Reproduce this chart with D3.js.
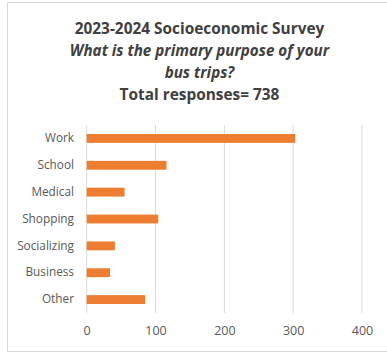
<!DOCTYPE html>
<html>
<head>
  <meta charset="utf-8">
  <script src="https://d3js.org/d3.v7.min.js"></script>
  <style>
    body { margin: 0; background: #fff; font-family: "Open Sans", sans-serif; }
  </style>
</head>
<body>
<script>
  // chart data
  var categories = ["Work", "School", "Medical", "Shopping", "Socializing", "Business", "Other"];
  var responses = [303, 116, 55, 104, 41, 34, 85];
  var xTicks = [0, 100, 200, 300, 400];
  var titleLines = [
    {text: "2023-2024 Socioeconomic Survey", italic: false},
    {text: "What is the primary purpose of your", italic: true},
    {text: "bus trips?", italic: true},
    {text: "Total responses= 738", italic: false}
  ];

  var width = 387, height = 353;
  var svg = d3.select("body").append("svg")
      .attr("width", width)
      .attr("height", height);

  // chart frame
  svg.append("rect")
      .attr("x", 7.5).attr("y", 2.5)
      .attr("width", 384).attr("height", 349)
      .attr("fill", "#fff")
      .attr("stroke", "#d9d9d9");

  // title
  svg.selectAll("text.title")
      .data(titleLines)
      .enter().append("text")
      .attr("class", "title")
      .attr("x", 199.5)
      .attr("y", function (d, i) { return 34 + i * 22; })
      .attr("text-anchor", "middle")
      .style("font-size", function (d) { return d.italic ? "15.2px" : "15.4px"; })
      .style("font-weight", 700)
      .style("font-style", function (d) { return d.italic ? "italic" : "normal"; })
      .style("fill", "#404040")
      .text(function (d) { return d.text; });

  var x = d3.scaleLinear().domain([0, 400]).range([86.7, 362]);
  var y = d3.scaleBand().domain(categories).range([125, 313]).paddingInner(0.67).paddingOuter(0.335);

  // gridlines
  svg.append("g")
      .selectAll("line")
      .data(xTicks)
      .enter().append("line")
      .attr("x1", function (d) { return x(d); })
      .attr("x2", function (d) { return x(d); })
      .attr("y1", 125).attr("y2", 313)
      .attr("stroke", "#d9d9d9")
      .attr("stroke-width", 1);

  // bars
  svg.append("g")
      .selectAll("rect")
      .data(categories)
      .enter().append("rect")
      .attr("x", x(0))
      .attr("y", function (d) { return y(d); })
      .attr("width", function (d, i) { return x(responses[i]) - x(0); })
      .attr("height", y.bandwidth())
      .attr("fill", "#ed7d31");

  // x axis labels
  var xAxis = svg.append("g")
      .attr("transform", "translate(0,313)")
      .call(d3.axisBottom(x).tickValues(xTicks).tickSize(0).tickPadding(13));
  xAxis.select(".domain").remove();
  xAxis.selectAll("text")
      .style("font-family", "Open Sans")
      .style("font-size", "12.5px")
      .style("fill", "#595959");

  // y axis labels
  var yAxis = svg.append("g")
      .attr("transform", "translate(74,0)")
      .call(d3.axisLeft(y).tickSize(0).tickPadding(0));
  yAxis.select(".domain").remove();
  yAxis.selectAll("text")
      .style("font-family", "Open Sans")
      .style("font-size", "11.8px")
      .style("fill", "#595959");
</script>
</body>
</html>
